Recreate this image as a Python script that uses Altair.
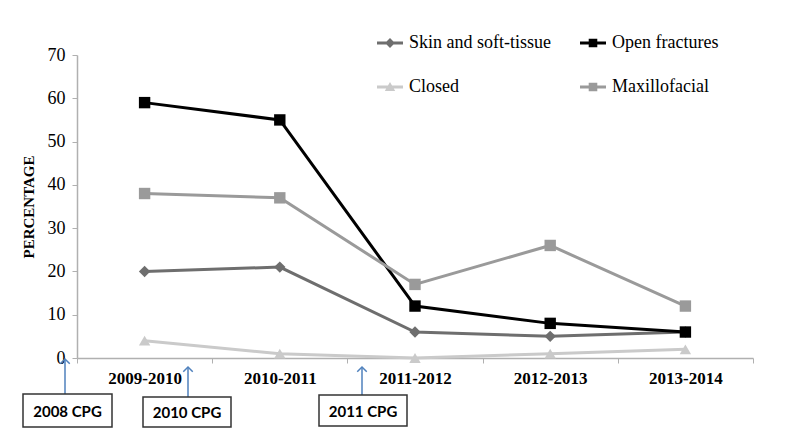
import altair as alt
import pandas as pd

years = ["2009-2010", "2010-2011", "2011-2012", "2012-2013", "2013-2014"]
series = ["Skin and soft-tissue", "Closed", "Open fractures", "Maxillofacial"]
skin = [20, 21, 6, 5, 6]
closed = [4, 1, 0, 1, 2]
open_fx = [59, 55, 12, 8, 6]
maxillo = [38, 37, 17, 26, 12]
cpg_labels = ["2008 CPG", "2010 CPG", "2011 CPG"]

colors = ["#6e6e6e", "#cacaca", "#000000", "#9a9a9a"]
marker_shapes = ["diamond", "triangle-up", "square", "square"]
legend_shapes = [
    "M-1,-0.11H1V0.11H-1Z M0,-0.38L0.38,0L0,0.38L-0.38,0Z",
    "M-1,-0.11H1V0.11H-1Z M0,-0.38L0.4,0.3H-0.4Z",
    "M-1,-0.11H1V0.11H-1Z M-0.33,-0.33H0.33V0.33H-0.33Z",
    "M-1,-0.11H1V0.11H-1Z M-0.33,-0.33H0.33V0.33H-0.33Z",
]

rows = []
for s, vals in zip(series, [skin, closed, open_fx, maxillo]):
    for yr, v in zip(years, vals):
        rows.append({"year": yr, "series": s, "value": v})
df = pd.DataFrame(rows)

W, H = 676, 303
AXIS_GRAY = "#b0b0b0"
SERIF = "Liberation Serif"

x = alt.X(
    "year:N", sort=years,
    scale=alt.Scale(type="band", paddingInner=0, paddingOuter=0),
    axis=alt.Axis(title=None, labelAngle=0, tickBand="extent",
                  labelFont=SERIF, labelFontSize=17, labelFontWeight="bold",
                  labelColor="black", domainColor=AXIS_GRAY, tickColor=AXIS_GRAY,
                  domainWidth=1.5, tickSize=5, labelPadding=7),
)
y = alt.Y(
    "value:Q", scale=alt.Scale(domain=[0, 70]),
    axis=alt.Axis(values=list(range(0, 71, 10)), title="PERCENTAGE", grid=False,
                  labelFont=SERIF, labelFontSize=18, labelColor="black",
                  titleFont=SERIF, titleFontSize=15, titleFontWeight="bold",
                  titleColor="black", titlePadding=11,
                  domainColor=AXIS_GRAY, tickColor=AXIS_GRAY, domainWidth=1.5,
                  tickSize=5, labelPadding=7),
)
color_scale = alt.Scale(domain=series, range=colors)

legend = alt.Legend(title=None, orient="none", legendX=300, legendY=-25, columns=2,
                    symbolSize=676, symbolOpacity=1, symbolStrokeWidth=0,
                    labelFont=SERIF, labelFontSize=18, labelColor="black",
                    rowPadding=22, columnPadding=29, labelOffset=6, labelLimit=400)

base = alt.Chart(df)
lines = base.mark_line(strokeWidth=3).encode(
    x=x, y=y, color=alt.Color("series:N", scale=color_scale, legend=None))
points = base.mark_point(filled=True, size=130, opacity=1).encode(
    x=x, y=y,
    color=alt.Color("series:N", scale=color_scale, legend=None),
    shape=alt.Shape("series:N", scale=alt.Scale(domain=series, range=marker_shapes), legend=None))
legend_layer = base.mark_point(filled=True, opacity=0, size=676).encode(
    x=x, y=y,
    color=alt.Color("series:N", scale=alt.Scale(domain=series, range=colors), legend=legend),
    shape=alt.Shape("series:N", scale=alt.Scale(domain=series, range=legend_shapes), legend=legend))

BLUE = "#4f81bd"
annots = []
# (label, arrow x, arrow tip y, box x0, x1, y0, y1) in plot pixels
specs = [
    (cpg_labels[0], -12, 304, -54, 35, 339, 372),
    (cpg_labels[1], 111, 312, 66, 154, 342, 372),
    (cpg_labels[2], 285, 312, 242, 330, 340, 371),
]
for lab, ax, tip, bx0, bx1, by0, by1 in specs:
    d = alt.Chart(pd.DataFrame({"label": [lab]}))
    annots.append(d.mark_rule(color=BLUE, strokeWidth=1.5).encode(
        x=alt.value(ax), y=alt.value(tip), y2=alt.value(by0)))
    annots.append(d.mark_point(shape="M-1,1L0,0L1,1", filled=False, size=90,
                               strokeWidth=1.5, color=BLUE, opacity=1).encode(
        x=alt.value(ax), y=alt.value(tip)))
    annots.append(d.mark_rect(fill="white", stroke="#333333", strokeWidth=1.5).encode(
        x=alt.value(bx0), x2=alt.value(bx1), y=alt.value(by0), y2=alt.value(by1)))
    annots.append(d.mark_text(font="Lato", fontSize=15, fontWeight="bold", color="black",
                              align="center", baseline="middle").encode(
        text="label:N", x=alt.value((bx0 + bx1) / 2), y=alt.value((by0 + by1) / 2 + 1)))

chart = alt.layer(lines, points, legend_layer, *annots).resolve_scale(
    shape="independent", color="independent"
).properties(
    width=W, height=H,
    autosize=alt.AutoSizeParams(type="none"),
    padding={"left": 69, "top": 47, "right": 39, "bottom": 70},
).configure_view(stroke=None).configure_legend(
    labelFont=SERIF, labelFontSize=18, labelColor="black"
)

chart.save("out.html", embed_options={"renderer": "svg", "actions": False})
